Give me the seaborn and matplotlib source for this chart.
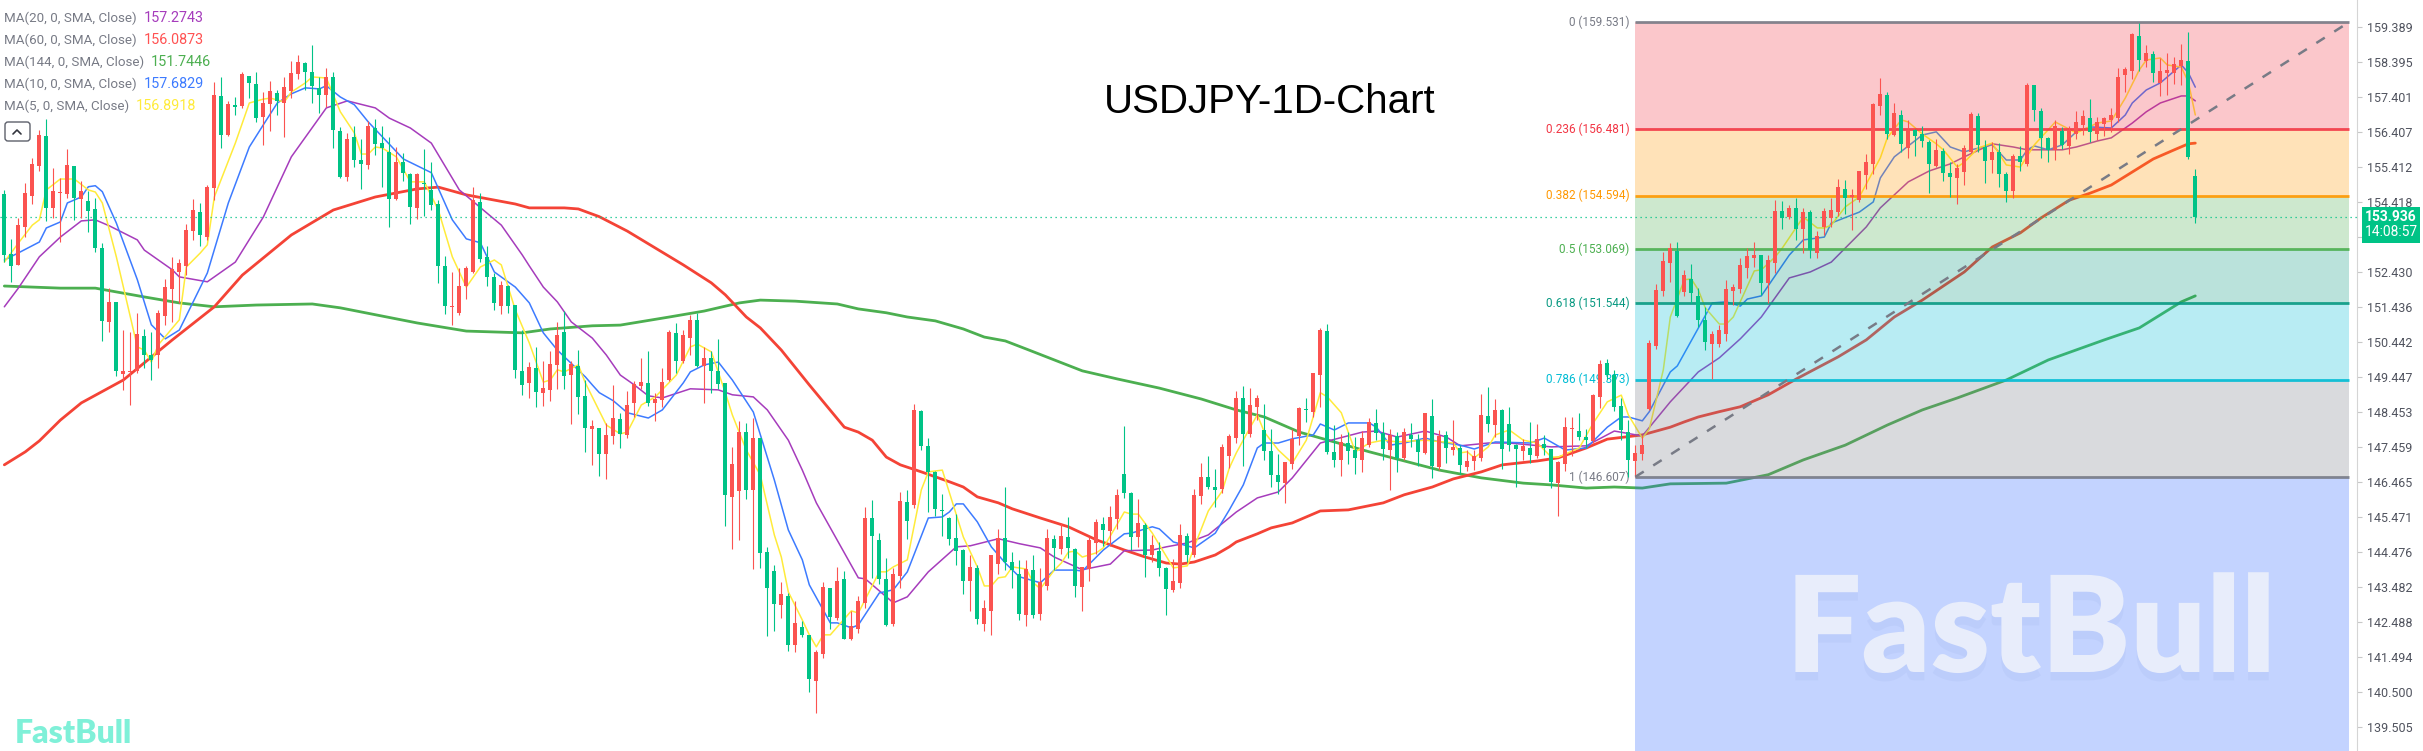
import matplotlib
matplotlib.use('Agg')
import numpy as np
import pandas as pd
import seaborn as sns
import matplotlib.pyplot as plt
from matplotlib.lines import Line2D
from matplotlib.patches import FancyBboxPatch, Rectangle
from matplotlib.transforms import IdentityTransform
import matplotlib.patheffects as pe

# daily candles
highs = [154.76,153.37,153.97,154.95,155.66,156.46,156.77,155.37,155.09,155.91,
155.44,155.02,154.74,154.52,153.24,151.96,151.58,150.78,150.73,151.25,
150.80,150.71,151.35,152.22,152.86,152.79,153.79,154.49,154.38,154.90,
157.84,157.96,157.30,157.41,158.10,158.00,158.10,157.55,157.86,157.60,
157.98,158.43,158.59,158.40,158.89,157.98,158.22,158.10,156.54,156.39,
156.59,156.20,156.72,156.77,156.58,156.27,155.99,155.82,155.25,155.25,
155.91,155.54,154.47,152.89,152.44,152.55,152.61,154.83,154.68,153.18,
152.39,152.18,152.06,151.49,150.78,149.88,150.31,149.91,150.17,151.00,
151.33,149.91,150.22,149.36,148.23,148.00,148.13,149.22,148.42,149.05,
149.34,149.98,150.18,148.98,149.69,150.78,150.97,150.78,151.21,151.26,
150.29,150.17,150.52,149.28,147.45,148.20,148.15,148.29,147.72,144.61,
144.11,143.62,143.30,143.09,142.50,142.12,141.69,143.62,143.45,144.06,
143.92,142.80,143.21,145.76,145.95,145.01,144.30,144.03,146.19,146.24,
148.67,148.51,147.71,146.77,146.12,145.48,145.56,144.55,144.39,144.11,
143.11,144.39,145.13,146.31,144.46,144.25,144.25,144.40,144.01,145.12,
144.96,145.31,145.48,144.58,144.06,144.90,145.41,145.46,145.79,146.26,
148.06,146.19,145.97,145.29,144.96,144.77,144.06,144.27,145.26,145.01,
146.26,147.00,147.21,146.83,147.54,147.82,149.05,149.20,149.12,148.93,
148.69,147.98,147.25,147.04,147.96,148.60,148.84,149.56,150.85,150.94,
148.08,147.84,147.89,147.73,147.92,148.27,148.55,148.17,147.98,147.89,
148.01,148.13,147.84,148.43,148.81,147.94,147.92,148.22,147.51,147.37,
147.37,148.95,149.15,148.81,148.55,148.60,147.53,147.67,148.17,148.11,
147.79,147.40,147.07,148.30,148.30,148.41,147.96,148.95,149.94,149.97,
149.64,148.86,148.22,147.52,147.79,150.51,152.09,153.00,153.24,153.29,
152.48,152.65,151.96,151.44,150.76,150.92,152.20,152.09,152.82,153.10,
153.27,152.91,152.91,154.47,154.44,154.33,154.54,154.24,154.19,153.59,
154.25,154.52,155.07,155.04,154.78,155.31,155.77,157.22,157.93,157.55,
157.22,157.03,156.76,156.48,156.58,156.18,156.20,155.94,155.56,155.50,
156.03,156.98,156.95,156.18,156.13,156.08,155.28,155.78,156.01,157.81,
157.74,157.08,156.25,156.74,156.56,156.57,157.00,157.03,157.33,156.82,
156.82,157.10,158.21,158.26,159.21,159.49,158.89,158.71,158.52,158.64,
158.54,158.92,159.26,155.35]

lows = [152.72,152.15,152.63,153.43,154.36,155.30,153.88,153.97,153.29,154.52,
153.91,153.97,153.57,153.01,150.48,150.73,149.48,149.08,148.65,149.55,
149.69,149.36,149.69,150.92,151.02,151.54,152.34,153.34,153.17,153.34,
154.46,155.96,156.29,156.89,157.08,157.36,156.70,156.04,156.44,156.89,
156.25,157.36,157.91,157.60,157.24,156.94,157.13,155.96,155.09,155.00,
155.42,154.79,155.36,155.75,154.85,153.72,154.47,155.00,153.79,153.93,
154.02,154.19,152.13,151.24,150.92,151.20,151.65,152.39,152.72,152.03,
151.35,151.24,151.25,149.43,148.94,148.86,148.58,148.63,148.77,149.11,
149.11,148.11,148.40,147.32,146.95,146.64,146.55,147.55,147.43,147.72,
148.30,149.10,148.62,148.20,148.59,149.34,149.55,149.84,150.06,149.72,
148.71,149.00,149.10,145.20,144.56,144.82,145.98,143.99,144.02,142.09,
142.23,142.60,141.66,141.64,142.06,140.50,139.90,141.47,142.29,142.55,
142.01,141.98,142.18,142.89,143.74,143.57,142.37,142.37,143.45,144.85,
145.73,147.37,145.61,145.50,144.93,144.68,144.11,143.28,142.80,142.43,
142.23,142.12,143.85,143.97,143.45,142.55,142.37,142.60,142.55,143.40,
143.97,144.42,144.30,143.20,142.80,143.65,144.42,144.65,144.65,145.13,
146.01,144.53,144.61,143.77,144.19,143.80,142.69,143.34,143.45,144.19,
144.34,145.84,146.27,145.76,146.15,146.86,147.57,146.92,147.75,148.22,
147.08,146.33,146.12,145.87,146.83,147.51,148.17,148.32,148.60,147.27,
146.89,146.64,146.97,146.69,146.74,147.46,147.65,147.08,146.23,146.74,
147.08,147.46,146.91,147.26,146.57,146.80,147.01,147.23,146.69,146.77,
146.80,147.06,147.88,147.75,146.83,147.35,146.33,147.10,147.01,147.14,
147.23,146.30,145.49,146.77,147.21,147.65,147.42,147.56,148.56,149.36,
148.48,147.65,146.61,146.61,147.08,148.51,150.23,151.75,152.15,151.16,
151.75,151.54,150.87,150.21,149.38,150.29,150.47,151.49,151.84,152.26,
152.56,151.77,151.54,152.39,153.65,153.93,153.34,152.96,152.82,152.82,
153.48,153.71,154.02,154.09,153.62,154.42,154.80,155.21,156.89,156.20,
156.28,155.85,155.68,155.72,155.99,154.67,155.42,155.02,154.55,154.36,
154.90,155.80,155.85,154.96,155.23,154.85,154.42,154.54,155.31,155.45,
156.72,155.67,155.56,155.61,155.91,155.77,156.22,156.32,156.13,156.18,
156.29,156.41,156.70,157.53,157.90,158.14,158.26,157.83,157.43,157.46,
157.77,157.74,155.64,153.83]

body_high = [154.64,152.94,153.76,154.66,155.50,156.32,156.29,154.73,154.68,155.46,
155.44,154.74,154.44,154.22,153.10,151.58,151.58,149.62,149.60,150.67,
150.61,150.07,151.25,151.99,152.51,152.68,153.62,154.19,154.12,154.84,
157.46,157.43,157.20,157.14,158.05,158.00,157.77,157.24,157.57,157.51,
157.69,158.07,158.40,158.36,158.10,157.65,157.98,157.97,156.43,156.22,
156.25,155.61,156.59,156.51,156.08,155.83,155.56,155.56,155.21,155.21,
154.95,154.76,154.36,152.60,151.44,152.03,152.53,154.46,154.41,152.85,
152.28,152.06,152.03,151.49,149.62,149.73,149.70,149.14,149.82,150.64,
150.73,149.82,149.76,148.91,148.06,148.00,147.80,148.28,148.26,148.65,
149.25,149.31,149.28,148.82,149.31,150.73,150.70,150.64,151.07,151.07,
149.99,149.99,149.62,149.27,146.98,147.89,147.89,147.72,147.72,144.48,
143.94,143.28,143.23,142.46,142.35,142.12,141.64,143.47,143.45,143.65,
143.71,142.37,143.09,145.44,145.44,144.82,143.71,143.85,145.93,145.90,
148.51,148.48,147.49,146.75,145.67,145.44,144.87,144.53,144.05,144.02,
142.89,144.39,144.87,144.87,144.19,143.85,143.99,143.97,143.62,144.87,
144.85,144.93,144.90,144.56,144.05,144.82,145.33,145.27,145.47,146.10,
146.69,146.15,145.30,145.24,144.67,144.51,144.02,143.65,144.96,144.93,
146.10,146.61,146.61,146.32,147.46,147.77,148.85,148.86,148.64,148.85,
147.94,147.34,146.66,147.03,147.68,148.56,148.52,149.56,150.78,150.75,
147.31,147.60,147.57,147.37,147.71,148.16,148.14,147.85,147.79,147.77,
147.88,147.79,147.65,148.42,148.33,147.77,147.79,147.45,147.43,147.06,
147.20,148.36,148.33,148.50,148.50,148.11,147.51,147.48,147.43,147.68,
147.54,147.40,147.03,148.02,147.98,147.91,147.74,148.93,149.81,149.84,
149.50,148.62,147.88,147.28,147.51,150.41,151.92,152.74,153.11,153.02,
152.34,152.23,151.75,151.06,150.67,150.78,151.94,152.00,152.63,152.88,
152.91,152.91,152.77,154.16,154.16,154.25,154.25,154.13,154.13,153.45,
154.16,154.19,154.84,154.79,154.61,155.30,155.55,157.20,157.48,157.46,
156.94,156.89,156.46,156.46,156.35,156.12,155.89,155.86,155.24,155.38,
155.94,156.92,156.86,155.97,155.85,155.85,155.22,155.72,155.72,157.74,
157.74,157.00,156.23,156.57,156.43,156.46,156.69,156.86,156.80,156.69,
156.80,156.89,157.97,158.19,159.19,159.13,158.65,158.62,158.15,158.17,
158.33,158.45,158.42,155.17]

body_low = [152.91,152.60,152.63,153.72,154.59,155.44,154.26,154.26,154.66,154.64,
154.54,154.50,154.16,153.12,151.05,151.02,149.62,149.54,149.59,149.62,
150.07,149.93,150.07,151.18,151.95,152.44,152.60,153.60,153.48,153.43,
154.81,156.32,156.32,157.13,157.14,157.81,156.79,156.82,157.20,157.29,
157.22,157.57,158.05,158.12,157.71,157.46,157.46,156.46,155.14,155.14,
155.61,155.50,155.47,156.07,155.94,154.50,154.50,155.23,154.28,154.24,
154.93,154.33,152.60,151.47,151.42,151.25,152.03,152.44,152.79,152.30,
151.54,151.47,151.47,149.64,149.22,149.28,149.03,148.99,149.08,149.79,
149.48,149.51,148.88,148.00,147.97,147.26,147.26,147.77,147.83,147.80,
148.71,149.19,148.71,148.71,148.80,149.36,149.90,149.90,150.56,149.76,
149.76,149.62,149.25,146.08,146.04,146.21,146.24,146.24,144.45,143.45,
143.00,142.97,141.84,141.84,142.12,140.87,140.81,141.58,142.63,142.60,
142.01,142.01,142.29,143.03,144.93,143.71,142.40,142.43,143.80,145.36,
145.81,147.49,146.75,145.70,145.65,144.85,144.51,143.65,143.65,142.57,
142.43,142.80,144.14,144.19,143.97,142.72,142.69,142.69,142.72,143.51,
144.59,144.56,144.59,143.51,143.48,143.99,144.73,145.10,145.07,145.41,
146.15,144.90,144.90,144.39,144.39,144.02,143.43,143.40,143.60,144.39,
144.39,146.06,146.32,146.24,146.27,147.20,147.72,147.82,147.82,148.59,
147.34,146.66,146.46,146.43,146.97,147.77,148.51,148.45,149.50,147.31,
147.08,147.08,147.34,147.14,147.08,147.51,147.85,147.40,147.37,147.14,
147.14,147.68,147.31,147.28,146.91,146.89,147.43,147.37,146.94,146.89,
147.06,147.14,148.11,148.08,147.40,147.51,147.40,147.34,147.23,147.20,
147.43,146.46,146.43,146.97,147.97,147.74,147.65,147.62,148.87,149.50,
148.59,147.94,147.08,147.06,147.26,148.53,150.32,151.89,152.68,151.18,
151.86,151.83,151.06,150.44,150.38,150.38,150.67,151.89,151.94,152.54,
152.82,152.11,152.11,152.68,153.96,153.98,153.65,153.65,153.05,152.97,
153.71,153.96,154.13,154.53,154.55,154.47,155.18,155.50,157.14,156.35,
156.32,156.06,155.95,156.29,156.15,155.50,155.44,155.24,155.13,155.10,
155.27,155.85,156.03,155.59,155.61,155.22,154.73,154.73,155.55,155.49,
157.03,156.23,155.89,155.89,156.03,156.01,156.35,156.60,156.40,156.35,
156.63,156.74,156.80,158.02,158.14,158.45,158.42,158.08,157.79,158.07,
158.09,158.28,155.70,153.98]

# R = close above open, G = close below open
directions = list(
    "GGRRRRGRRR" "GRGGGRGRRR" "GGRRRRRRGR" "RGRGRGGRRG" "RRRGGGRGGR"
    "GGRGGGRGGR" "GGGGRRRRGG" "GRGGGRGRRR" "GRGGRGRRGR" "RRGRRRGRRG"
    "RGGGRRGRGG" "GRGRGGRRGR" "GRRRGGGRRG" "RGGGGGGGRG" "RRRGGGRGRR"
    "GRGGRRRGRR" "GGRGRGGRRG" "RRGGRRRGRR" "GGGRRRGRRG" "GRGGRRGGRG"
    "RGGRGRGRGR" "RRGRGGGRGR" "GGRRRGGRRG" "GGGRRRRRRG" "RGGGRRRRRR"
    "RGRRGRGRGR" "RRRGRRRRRG" "RGRGGGRGGR" "RRGGRGGRGR" "GGGRGRRRGR"
    "RRRRRGRGRR" "RRGG")

# moving averages, read at the bars listed
ma60_bars = [0,3,5,8,11,17,24,30,34,41,47,53,59,62,66,73,75,80,82,85,89,93,97,101,103,106,108,111,115,120,122,124,126,128,131,135,137,139,142,144,148,152,156,160,163,166,168,170,173,175,176,179,181,184,186,188,192,197,200,204,207,211,214,219,222,226,229,234,238,240,242,245,248,252,256,262,266,270,274,280,284,288,291,295,298,301,304,307,310,312,313]
ma60_vals = [146.95,147.32,147.63,148.22,148.71,149.36,150.50,151.44,152.34,153.48,154.19,154.56,154.79,154.84,154.62,154.36,154.25,154.25,154.22,154.00,153.59,153.11,152.63,152.12,151.78,151.15,150.84,150.21,149.22,148.02,147.88,147.65,147.17,146.95,146.75,146.47,146.32,146.04,145.87,145.70,145.44,145.19,144.82,144.53,144.33,144.16,144.13,144.19,144.39,144.62,144.76,144.99,145.16,145.30,145.47,145.64,145.67,145.87,146.10,146.32,146.55,146.75,146.95,147.06,147.15,147.43,147.68,147.80,148.02,148.17,148.31,148.46,148.60,148.94,149.39,150.02,150.50,151.15,151.63,152.43,153.14,153.54,153.97,154.47,154.67,154.90,155.27,155.64,155.90,156.07,156.09]

ma144_bars = [0,8,13,20,25,30,36,44,48,59,66,74,78,84,88,95,100,105,108,113,119,122,126,129,133,137,140,143,146,150,154,159,165,171,176,180,185,190,195,200,205,211,217,221,226,230,234,238,246,252,257,263,269,274,279,286,292,300,305,311,313]
ma144_vals = [152.03,151.97,151.97,151.72,151.55,151.44,151.49,151.52,151.41,150.98,150.75,150.70,150.81,150.90,150.92,151.15,151.32,151.55,151.63,151.60,151.52,151.38,151.27,151.15,151.04,150.81,150.58,150.47,150.24,149.93,149.62,149.39,149.13,148.82,148.51,148.31,147.88,147.60,147.32,147.06,146.80,146.58,146.43,146.38,146.29,146.32,146.29,146.41,146.43,146.67,147.09,147.51,148.08,148.51,148.85,149.36,149.93,150.50,150.84,151.58,151.75]

ma20_bars = [0,2,5,8,11,13,15,19,20,24,25,29,30,33,37,41,46,49,53,55,58,61,65,71,74,75,77,79,81,84,86,88,90,92,94,98,102,104,107,109,112,114,116,118,122,123,127,129,132,136,138,142,145,148,150,154,158,160,164,166,169,172,176,179,182,184,188,194,196,199,203,206,208,212,215,221,226,230,234,238,242,245,248,251,255,258,261,266,268,272,275,278,280,284,287,289,294,296,299,301,304,306,308,311,312,313]
ma20_vals = [151.44,151.97,152.86,153.42,153.88,153.91,153.74,153.34,153.05,152.49,152.29,152.15,152.29,152.71,153.99,155.70,157.09,157.29,157.09,156.80,156.52,156.09,154.76,153.76,152.91,152.60,152.00,151.58,151.01,150.55,150.07,149.50,149.22,148.91,148.85,149.11,149.08,148.94,148.88,148.51,147.65,146.80,145.87,145.16,143.74,143.71,143.03,143.20,143.91,144.62,144.65,144.85,144.71,144.59,144.33,143.97,144.13,144.51,144.53,144.62,144.73,144.96,145.61,146.01,146.18,146.58,147.57,147.88,147.91,147.74,147.91,147.74,147.49,147.57,147.57,147.46,147.49,147.91,147.77,148.74,149.59,149.99,150.53,151.15,152.26,152.43,152.71,153.71,154.25,154.99,155.30,155.50,155.70,156.07,155.98,155.90,155.90,155.98,156.15,156.24,156.66,156.98,157.23,157.43,157.43,157.29]

ma10_bars = [0,2,5,6,8,9,11,12,13,14,16,19,21,23,25,29,32,35,37,39,41,43,45,46,48,50,52,54,57,61,64,66,68,70,73,75,77,79,83,84,85,87,89,92,94,97,98,100,102,104,107,110,112,114,115,118,119,121,122,125,127,129,132,134,135,136,137,139,141,143,145,148,150,153,154,157,160,161,164,165,167,170,173,175,177,179,180,182,184,187,188,190,192,195,196,198,200,203,205,208,210,213,218,220,223,226,229,231,232,234,235,238,239,244,246,248,249,251,255,257,260,261,265,267,268,270,274,276,278,280,281,284,286,288,289,290,292,294,296,298,301,303,304,306,308,311,312,313]
ma10_vals = [152.77,152.97,153.28,153.68,153.85,154.39,154.56,154.85,154.88,154.71,153.82,152.21,150.93,150.53,150.78,152.40,154.39,155.98,156.61,157.23,157.49,157.66,157.63,157.72,157.40,157.18,156.69,156.27,155.64,155.25,153.91,153.37,153.26,152.43,152.00,151.55,150.70,150.21,149.45,149.22,149.00,148.77,148.43,148.28,148.51,149.28,149.59,149.79,149.87,149.36,148.45,146.52,145.10,144.25,143.54,142.46,142.46,142.32,142.40,143.31,143.40,143.91,145.44,145.47,145.61,145.84,145.84,145.33,144.62,144.16,143.77,143.60,143.96,143.96,143.93,144.53,144.99,145.01,145.19,145.13,144.76,144.59,145.01,145.67,146.38,147.43,147.57,147.57,147.69,147.80,148.11,147.94,148.14,148.14,148.02,147.51,147.57,147.71,147.60,147.51,147.40,147.60,147.57,147.71,147.37,147.43,148.02,148.31,148.31,148.20,148.46,149.59,149.76,151.55,151.58,151.46,151.66,151.75,152.91,153.34,153.42,153.82,154.13,154.42,155.10,155.70,156.32,156.41,155.98,155.84,155.90,156.04,155.61,155.61,155.90,156.01,155.90,156.04,156.41,156.55,156.52,156.89,157.23,157.60,157.80,158.31,158.09,157.68]

ma5_bars = [0,2,4,5,6,8,10,12,13,14,16,18,19,20,21,22,25,26,28,29,30,33,35,37,38,40,41,43,44,46,48,50,51,52,53,54,56,58,60,62,64,66,68,70,71,73,75,77,78,79,80,82,83,86,88,89,91,93,96,98,99,101,103,104,106,108,110,111,112,114,115,116,117,118,121,122,125,126,127,129,131,132,134,137,139,140,141,142,143,144,146,147,148,150,151,152,153,154,156,157,160,161,162,164,167,169,170,172,174,175,176,178,179,180,182,184,186,188,189,191,193,195,197,199,203,207,208,209,210,212,213,215,217,219,221,222,225,227,229,231,232,234,235,237,238,240,241,242,243,245,246,247,250,251,253,254,257,259,260,261,263,265,268,269,271,272,274,276,277,279,280,282,284,286,288,290,293,296,299,301,303,305,306,308,309,311,312,313]
ma5_vals = [152.71,153.25,153.76,153.91,154.76,155.07,155.07,154.76,154.70,154.39,152.86,151.15,150.30,150.21,149.87,150.36,151.07,152.57,152.97,153.20,154.56,156.09,157.23,157.34,157.37,157.26,157.54,157.80,157.97,157.94,156.98,156.38,155.78,155.78,155.98,155.95,155.70,154.99,154.99,154.19,152.86,152.00,152.57,152.77,152.63,151.35,150.41,149.30,149.36,149.65,149.59,149.79,149.28,148.08,147.83,147.88,148.65,148.88,149.50,150.30,150.38,150.16,149.00,148.37,147.37,146.66,144.96,144.33,143.34,142.54,142.12,141.78,142.12,142.12,142.80,142.74,143.91,143.91,144.05,144.25,146.24,146.75,146.80,144.90,144.05,143.51,143.51,143.74,143.77,144.05,143.99,143.60,143.43,143.96,144.16,144.47,144.50,144.33,144.45,144.59,145.61,145.55,145.55,145.01,144.02,144.08,144.62,145.64,146.21,146.86,147.29,148.02,148.37,147.88,147.37,147.00,147.65,149.00,148.88,148.43,147.32,147.57,147.65,147.60,147.65,147.57,147.29,147.32,147.15,147.46,147.80,147.94,147.65,147.57,147.17,147.17,147.43,148.14,148.74,148.93,148.37,147.71,147.97,149.65,151.15,152.21,152.23,151.92,151.41,150.95,150.95,151.15,152.46,152.49,152.86,153.11,153.99,153.68,153.68,153.76,154.28,154.56,155.67,156.24,156.75,156.69,156.35,156.07,155.90,155.41,155.55,155.95,156.09,155.47,155.41,156.04,156.69,156.38,156.66,156.72,157.37,158.17,158.45,158.51,158.31,158.25,157.83,156.89]

fib_ratios = ['0', '0.236', '0.382', '0.5', '0.618', '0.786', '1']
fib_prices = [159.531, 156.481, 154.594, 153.069, 151.544, 149.373, 146.607]
fib_colors = ['#787b86', '#f23645', '#ff9800', '#4caf50', '#089981', '#00bcd4', '#787b86']
fib_fills = ['#f23645', '#ff9800', '#4caf50', '#089981', '#00bcd4', '#787b86', '#2962ff']

# 153.424 has a tick but its label is hidden behind the price tag
price_ticks = [159.389, 158.395, 157.401, 156.407, 155.412, 154.418, 153.424, 152.430, 151.436, 150.442,
               149.447, 148.453, 147.459, 146.465, 145.471, 144.476, 143.482, 142.488, 141.494, 140.500, 139.505]
hidden_tick = 153.424
last_price = 153.98

ma_names = ['MA(20, 0, SMA, Close)', 'MA(60, 0, SMA, Close)', 'MA(144, 0, SMA, Close)', 'MA(10, 0, SMA, Close)', 'MA(5, 0, SMA, Close)']
ma_values = ['157.2743', '156.0873', '151.7446', '157.6829', '156.8918']
ma_colors = ['#a63cbc', '#ff5252', '#4caf50', '#3d7bff', '#ffeb3b']

W, H = 2423, 751
RED, GREEN = '#fb5350', '#00c386'

sns.set_style('white')
plt.rcParams['font.family'] = ['Roboto', 'DejaVu Sans']

fig = plt.figure(figsize=(W / 100, H / 100), dpi=100)
ax = fig.add_axes([0, 0, 2357 / W, 1])

df = pd.DataFrame({'bar': range(len(highs)), 'high': highs, 'low': lows,
                   'top': body_high, 'bot': body_low, 'dir': directions})
df['color'] = df['dir'].map({'R': RED, 'G': GREEN})

# moving averages sit under the fib fill, candles on top of it
ma_tables = [(ma144_bars, ma144_vals, '#4caf50', 2.0), (ma60_bars, ma60_vals, '#f44336', 2.0),
             (ma20_bars, ma20_vals, '#a63cbc', 1.1), (ma10_bars, ma10_vals, '#3d7bff', 1.1),
             (ma5_bars, ma5_vals, '#ffeb3b', 1.1)]
for bars, vals, color, lw in ma_tables:
    ma = pd.DataFrame({'bar': bars, 'price': vals})
    sns.lineplot(data=ma, x='bar', y='price', color=color, linewidth=lw, ax=ax,
                 estimator=None, sort=False, legend=False, zorder=2)

fib_start, fib_end = 233, 335
ax.set_ylim(138.82, 160.156)
ax.set_xlim(-0.619, 336.1)

# fib bands
levels = fib_prices + [ax.get_ylim()[0]]
for i, color in enumerate(fib_fills):
    ax.fill_between([fib_start, fib_end], levels[i + 1], levels[i], color=color, alpha=0.28, linewidth=0, zorder=3)
for ratio, price, color in zip(fib_ratios, fib_prices, fib_colors):
    ax.hlines(price, fib_start, fib_end, color=color, linewidth=2.0, alpha=0.9, zorder=3.5)
    ax.text(fib_start - 0.8, price, f'{ratio} ({price:.3f})', ha='right', va='center', color=color,
            fontsize=8.5, zorder=3.5)

# candles
ax.vlines(df['bar'], df['low'], df['high'], color=df['color'], linewidth=0.8, zorder=4)
heights = np.maximum(df['top'] - df['bot'], 0.03)
ax.bar(df['bar'], heights, bottom=df['bot'], width=4.2 / 7, color=df['color'], linewidth=0, zorder=4)

# trend line and last price line
ax.plot([fib_start, fib_end], [fib_prices[-1], fib_prices[0]], color='#787b86', linewidth=1.8,
        linestyle=(0, (4, 4.5)), zorder=5)
ax.axhline(last_price, color=GREEN, linewidth=0.9, linestyle=(0, (1, 3)), zorder=3.8)

ax.set_xlabel('')
ax.set_ylabel('')
ax.set_xticks([])
ax.yaxis.tick_right()
ax.set_yticks(price_ticks)
ax.set_yticklabels(['' if t == hidden_tick else f'{t:.3f}' for t in price_ticks])
ax.tick_params(axis='y', length=3.8, width=0.8, color='#c8c8c8', labelcolor='#50535e', labelsize=9, pad=3.5, right=True)
for side in ['left', 'top', 'bottom']:
    ax.spines[side].set_visible(False)
ax.spines['right'].set_color('#d5d5d5')


def fx(x):
    return x / W


def fy(y):
    return 1 - y / H


# legend block
for row, (name, value, color) in enumerate(zip(ma_names, ma_values, ma_colors)):
    y = fy(18 + row * 22)
    label = fig.text(fx(4), y, name, color='#787b86', fontsize=9.6, va='center', ha='left')
    fig.canvas.draw()
    right = label.get_window_extent().x1
    fig.text((right + 7) / W, y, value, color=color, fontsize=10.4, va='center', ha='left')

fig.add_artist(FancyBboxPatch((5, H - 141), 25, 19, boxstyle='round,pad=0,rounding_size=3',
                              facecolor='white', edgecolor='#5d606b', linewidth=1.0,
                              transform=IdentityTransform(), zorder=6))
fig.add_artist(Line2D([fx(13), fx(17), fx(21)], [fy(134), fy(130), fy(134)], color='#33353d', linewidth=1.2, zorder=7))

fig.text(fx(1270), fy(102), 'USDJPY-1D-Chart', family='Liberation Sans', fontsize=29, color='black', ha='center', va='center')

# watermarks
mark = fig.text(fx(1786), fy(672), 'FastBull', family='Lato', weight='heavy', fontsize=96, color='#e8edfb',
                ha='left', va='baseline', zorder=4)
mark.set_path_effects([pe.withSimplePatchShadow(offset=(0, -6), shadow_rgbFace='#8fa3e0', alpha=0.12)])
fig.text(fx(15), fy(743), 'FastBull', family='Lato', weight='heavy', fontsize=23, color='#7ff0d8', ha='left', va='baseline')

# last price tag
fig.add_artist(Rectangle((fx(2362), fy(243)), 58 / W, 36 / H, transform=fig.transFigure, facecolor=GREEN,
                         edgecolor='none', zorder=6))
fig.text(fx(2391), fy(217), '153.936', color='white', fontsize=10, weight='bold', ha='center', va='center', zorder=7)
fig.text(fx(2391), fy(232), '14:08:57', color='white', fontsize=10, ha='center', va='center', zorder=7)

fig.savefig('out.png', dpi=100, facecolor='white')
